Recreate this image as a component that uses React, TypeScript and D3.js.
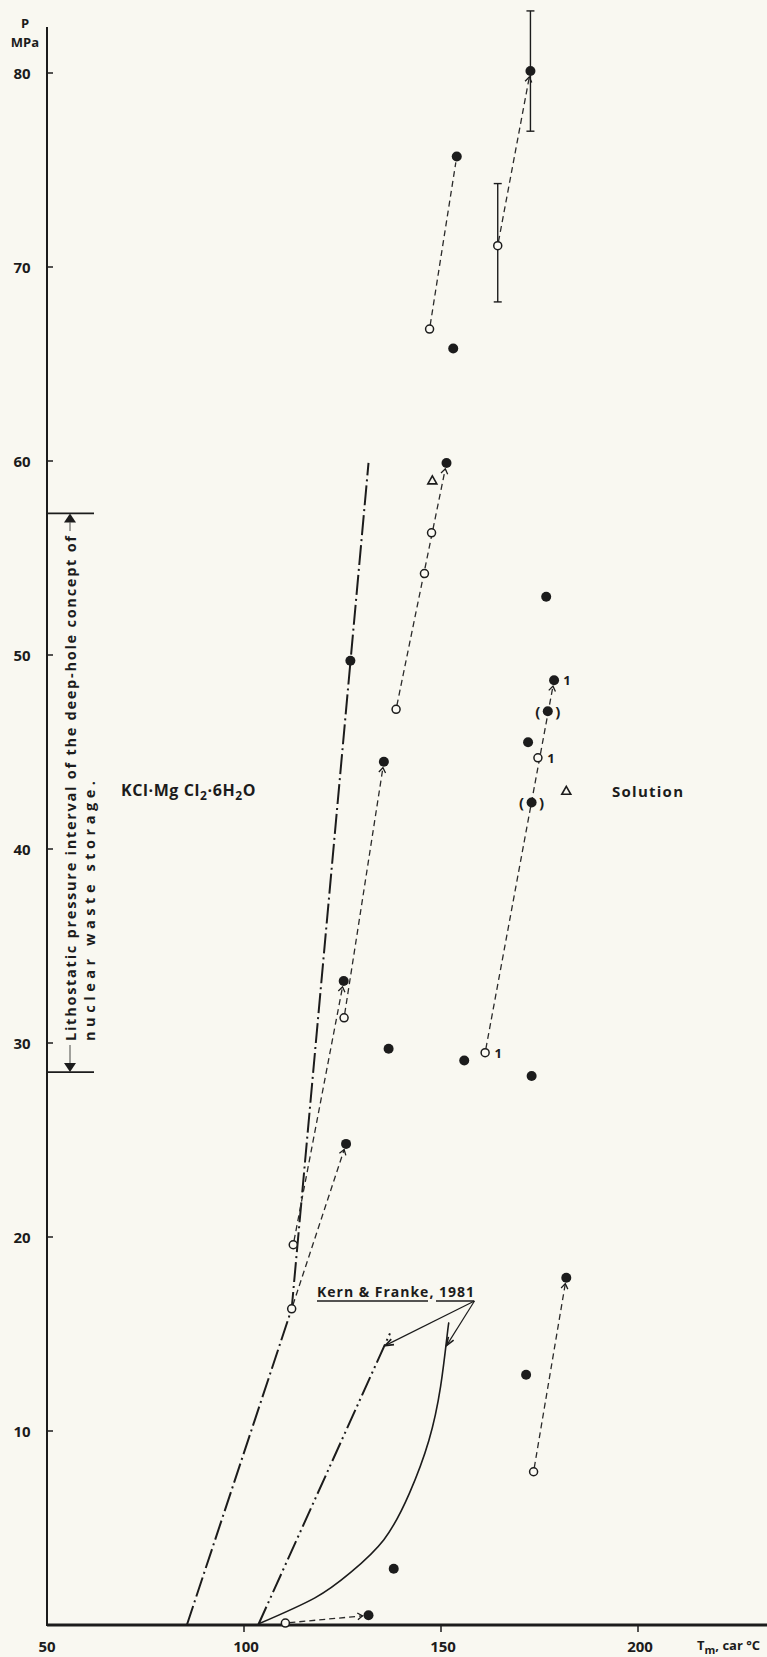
import React from 'react';
import * as d3 from 'd3';

const W = 767;
const H = 1657;

// axis ticks
const tempTicks = [50, 100, 150, 200];
const pressTicks = [10, 20, 30, 40, 50, 60, 70, 80];

// measured points, [T (°C), P (MPa)]
const filledPoints: [number, number][] = [
  [172.7, 80.1], [154.0, 75.7], [153.1, 65.8], [151.4, 59.9], [176.7, 53.0],
  [127.0, 49.7], [178.7, 48.7], [177.1, 47.1], [172.1, 45.5], [135.5, 44.5],
  [173.0, 42.4], [125.3, 33.2], [136.7, 29.7], [155.9, 29.1], [173.0, 28.3],
  [125.9, 24.8], [181.8, 17.9], [171.6, 12.9], [138.0, 2.9], [131.6, 0.5],
];
const openPoints: [number, number][] = [
  [164.4, 71.1], [147.1, 66.8], [147.6, 56.3], [145.8, 54.2], [138.6, 47.2],
  [174.6, 44.7], [125.4, 31.3], [161.2, 29.5], [112.5, 19.6], [112.1, 16.3],
  [173.5, 7.9], [110.5, 0.1],
];
const solutionPoints: [number, number][] = [[147.8, 59.0], [181.8, 43.0]];

// error bars [T, Pmin, Pmax]
const errorBars: [number, number, number][] = [
  [172.7, 77.0, 83.2],
  [164.4, 68.2, 74.3],
];

// dashed links open -> filled, with arrow flag
const links: [[number, number], [number, number], boolean][] = [
  [[164.4, 71.1], [172.7, 80.1], true],
  [[147.1, 66.8], [154.0, 75.7], false],
  [[138.6, 47.2], [151.4, 59.9], true],
  [[125.4, 31.3], [135.5, 44.5], true],
  [[112.5, 19.6], [125.3, 33.2], true],
  [[112.1, 16.3], [125.9, 24.8], true],
  [[161.2, 29.5], [178.7, 48.7], true],
  [[173.5, 7.9], [181.8, 17.9], true],
  [[110.5, 0.1], [131.6, 0.5], true],
];

// labels "1" and bracketed points
const oneLabels: [number, number][] = [[178.7, 48.7], [174.6, 44.7], [161.2, 29.5]];
const bracketed: [number, number][] = [[177.1, 47.1], [173.0, 42.4]];

// phase boundary lines
const dashDotLine: [number, number][] = [[85.5, 0], [112.1, 16.3], [131.6, 59.9]];
const dashDotDotLine: [number, number][] = [[103.6, 0], [137.2, 15.1]];
const kernCurve: [number, number][] = [
  [103.6, 0.05], [118.0, 1.4], [127.0, 2.7], [135.5, 4.4], [142.0, 6.8],
  [146.9, 9.5], [149.9, 12.3], [151.6, 15.0], [152.0, 15.6],
];

// Kern & Franke pointer arrows
const kernFrom: [number, number] = [158.5, 16.7];
const kernTo: [number, number][] = [[135.8, 14.4], [151.4, 14.4]];

// lithostatic pressure interval
const lithoRange = [28.5, 57.3];

const ink = '#1c1c1c';
const font = '"Open Sans", "DejaVu Sans", sans-serif';

const x = d3.scaleLinear().domain([50, 200]).range([47, 638]);
const y = d3.scaleLinear().domain([0, 80]).range([1625, 73]);

function arrowHead(x1: number, y1: number, x2: number, y2: number, len = 7, ang = 0.45) {
  const a = Math.atan2(y2 - y1, x2 - x1);
  const p1 = [x2 - len * Math.cos(a - ang), y2 - len * Math.sin(a - ang)];
  const p2 = [x2 - len * Math.cos(a + ang), y2 - len * Math.sin(a + ang)];
  return `M${p1[0]},${p1[1]}L${x2},${y2}L${p2[0]},${p2[1]}`;
}

export default function App() {
  const line = d3.line<[number, number]>().x(d => x(d[0])).y(d => y(d[1]));
  const curve = d3
    .line<[number, number]>()
    .x(d => x(d[0]))
    .y(d => y(d[1]))
    .curve(d3.curveNatural);

  const axisX = x(50);
  const axisY = y(0);
  const lithoTop = y(lithoRange[1]);
  const lithoBottom = y(lithoRange[0]);
  const textStart = 1041;

  return (
    <svg
      width={W}
      height={H}
      style={{ position: 'absolute', left: 0, top: 0, background: '#f9f8f1' }}
      fontFamily={font}
      fontWeight={700}
    >
      <rect width={W} height={H} fill="#f9f8f1" />

      {/* axes */}
      <line x1={axisX} y1={27} x2={axisX} y2={axisY + 1} stroke={ink} strokeWidth={2} />
      <line x1={axisX} y1={axisY} x2={W} y2={axisY} stroke={ink} strokeWidth={3.2} />
      {pressTicks.map(t => (
        <g key={'py' + t}>
          <line x1={axisX} x2={axisX + 6} y1={y(t)} y2={y(t)} stroke={ink} strokeWidth={1.5} />
          <text x={22} y={y(t)} fontSize={15} textAnchor="middle" dominantBaseline="central" fill={ink}>
            {t}
          </text>
        </g>
      ))}
      {tempTicks.map(t => (
        <g key={'tx' + t}>
          {t > 50 && (
            <line x1={x(t)} x2={x(t)} y1={axisY} y2={axisY + 7} stroke={ink} strokeWidth={1.5} />
          )}
          <text x={x(t) + (t === 50 ? 0 : 2)} y={1652} fontSize={15} textAnchor="middle" fill={ink}>
            {t}
          </text>
        </g>
      ))}
      <text x={25} y={28} fontSize={13} textAnchor="middle" fill={ink}>P</text>
      <text x={25} y={47} fontSize={13} textAnchor="middle" fill={ink}>MPa</text>
      <text x={697} y={1650} fontSize={13} fill={ink}>
        T<tspan dy={4} fontSize={11}>m</tspan>
        <tspan dy={-4}>, car °C</tspan>
      </text>

      {/* lithostatic bracket */}
      <line x1={axisX} x2={94} y1={lithoTop} y2={lithoTop} stroke={ink} strokeWidth={1.6} />
      <line x1={axisX} x2={94} y1={lithoBottom} y2={lithoBottom} stroke={ink} strokeWidth={1.6} />
      <path d={`M70,${lithoTop}L64,${lithoTop + 9}L76,${lithoTop + 9}Z`} fill={ink} />
      <path d={`M70,${lithoBottom}L64,${lithoBottom - 9}L76,${lithoBottom - 9}Z`} fill={ink} />
      <line x1={70} x2={70} y1={lithoTop + 9} y2={textStart - 510} stroke={ink} strokeWidth={0.8} />
      <line x1={70} x2={70} y1={textStart + 4} y2={lithoBottom - 9} stroke={ink} strokeWidth={0.8} />
      <text
        transform={`translate(70,${textStart}) rotate(-90)`}
        fontSize={14.5}
        fill={ink}
        dominantBaseline="central"
        textLength={505}
        lengthAdjust="spacing"
      >
        Lithostatic pressure interval of the deep-hole concept of
      </text>
      <text
        transform={`translate(89,${textStart}) rotate(-90)`}
        fontSize={14.5}
        fill={ink}
        dominantBaseline="central"
        textLength={260}
        lengthAdjust="spacing"
      >
        nuclear waste storage.
      </text>

      {/* boundary lines */}
      <path d={line(dashDotLine) || ''} fill="none" stroke={ink} strokeWidth={2} strokeDasharray="20 4 2 4" />
      <path d={line(dashDotDotLine) || ''} fill="none" stroke={ink} strokeWidth={2} strokeDasharray="20 4 2 4 2 4" />
      <path d={curve(kernCurve) || ''} fill="none" stroke={ink} strokeWidth={1.6} />

      {/* Kern & Franke label */}
      <text x={317} y={1297} fontSize={14} fill={ink} textLength={157} lengthAdjust="spacing">
        Kern &amp; Franke, 1981
      </text>
      <line x1={317} x2={428} y1={1301} y2={1301} stroke={ink} strokeWidth={1.4} />
      <line x1={436} x2={474} y1={1301} y2={1301} stroke={ink} strokeWidth={1.4} />
      {kernTo.map((d, i) => {
        const x1 = x(kernFrom[0]), y1 = y(kernFrom[1]);
        const x2 = x(d[0]), y2 = y(d[1]);
        return (
          <g key={'kt' + i}>
            <line x1={x1} y1={y1} x2={x2} y2={y2} stroke={ink} strokeWidth={1.2} />
            <path d={arrowHead(x1, y1, x2, y2, 9, 0.35)} fill="none" stroke={ink} strokeWidth={1.6} />
          </g>
        );
      })}

      {/* error bars */}
      {errorBars.map((d, i) => (
        <g key={'eb' + i} stroke={ink} strokeWidth={1.4}>
          <line x1={x(d[0])} x2={x(d[0])} y1={y(d[1])} y2={y(d[2])} />
          <line x1={x(d[0]) - 4} x2={x(d[0]) + 4} y1={y(d[1])} y2={y(d[1])} />
          <line x1={x(d[0]) - 4} x2={x(d[0]) + 4} y1={y(d[2])} y2={y(d[2])} />
        </g>
      ))}

      {/* dashed links */}
      {links.map((l, i) => {
        const x1 = x(l[0][0]), y1 = y(l[0][1]);
        const x2 = x(l[1][0]), y2 = y(l[1][1]);
        const len = Math.hypot(x2 - x1, y2 - y1);
        const ux = (x2 - x1) / len, uy = (y2 - y1) / len;
        const sx = x1 + ux * 4, sy = y1 + uy * 4;
        const ex = x2 - ux * 6, ey = y2 - uy * 6;
        return (
          <g key={'lk' + i}>
            <line x1={sx} y1={sy} x2={ex} y2={ey} stroke="#2a2a2a" strokeWidth={1.3} strokeDasharray="6 4" />
            {l[2] && <path d={arrowHead(sx, sy, ex, ey, 6, 0.6)} fill="none" stroke={ink} strokeWidth={1.3} />}
          </g>
        );
      })}

      {/* markers */}
      {filledPoints.map((d, i) => (
        <circle key={'f' + i} cx={x(d[0])} cy={y(d[1])} r={5} fill={ink} />
      ))}
      {openPoints.map((d, i) => (
        <circle key={'o' + i} cx={x(d[0])} cy={y(d[1])} r={4} fill="#fbfaf4" stroke={ink} strokeWidth={1.5} />
      ))}
      {solutionPoints.map((d, i) => {
        const cx = x(d[0]), cy = y(d[1]);
        return (
          <path
            key={'s' + i}
            d={`M${cx},${cy - 4.5}L${cx + 4.5},${cy + 3.5}L${cx - 4.5},${cy + 3.5}Z`}
            fill="none"
            stroke={ink}
            strokeWidth={1.6}
          />
        );
      })}
      {bracketed.map((d, i) => (
        <g key={'b' + i} fontSize={15} fill={ink}>
          <text x={x(d[0]) - 10} y={y(d[1])} textAnchor="middle" dominantBaseline="central">(</text>
          <text x={x(d[0]) + 10} y={y(d[1])} textAnchor="middle" dominantBaseline="central">)</text>
        </g>
      ))}
      {oneLabels.map((d, i) => (
        <text
          key={'n' + i}
          x={x(d[0]) + 13}
          y={y(d[1])}
          fontSize={13}
          fill={ink}
          textAnchor="middle"
          dominantBaseline="central"
        >
          1
        </text>
      ))}

      {/* region labels */}
      <text x={121} y={796} fontSize={16} fill={ink} letterSpacing={0.6}>
        KCl·Mg Cl<tspan dy={4} fontSize={12}>2</tspan>
        <tspan dy={-4}>·6H</tspan>
        <tspan dy={4} fontSize={12}>2</tspan>
        <tspan dy={-4}>O</tspan>
      </text>
      <text x={612} y={797} fontSize={15} fill={ink} textLength={71} lengthAdjust="spacing">
        Solution
      </text>
    </svg>
  );
}
